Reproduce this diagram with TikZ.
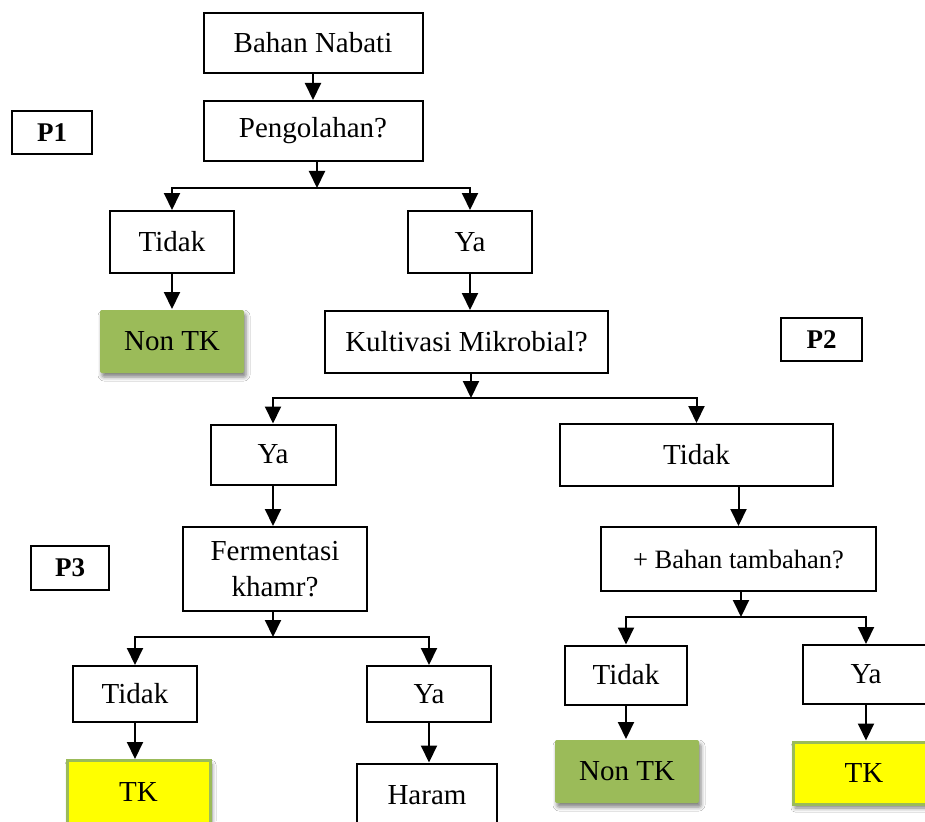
\documentclass[tikz,border=0pt]{standalone}
\usepackage{fontspec}
\setmainfont{Liberation Serif}
\usetikzlibrary{arrows.meta,shadows.blur,calc}
\definecolor{olive}{HTML}{9BBB59}
\definecolor{tkyellow}{HTML}{FFFF00}
\tikzset{
  box/.style={draw, line width=2pt, inner sep=0pt, align=center,
    font=\fontsize{29}{36}\selectfont},
  tag/.style={draw, line width=1.6pt, inner sep=0pt,
    font=\fontsize{27}{32}\selectfont\bfseries},
  soft/.style={blur shadow={shadow xshift=2pt, shadow yshift=-4pt,
    shadow blur radius=4pt, shadow opacity=50}},
  nontk/.style={box, draw=none, fill=olive, rounded corners=2pt, soft},
  tk/.style={box, draw=olive, line width=3pt, fill=tkyellow, soft},
  arr/.style={line width=2pt, -{Triangle[length=17pt,width=16pt]}},
  link/.style={line width=2pt}
}
\begin{document}
\begin{tikzpicture}[x=1pt, y=-1pt]
\clip (0,0) rectangle (925,821);
\fill[white] (0,0) rectangle (925,821);

% stage labels
\node[tag, minimum width=80pt, minimum height=43pt] (p1) at (52,132.5) {P1};
\node[tag, minimum width=81pt, minimum height=43pt] (p2) at (821.5,339.5) {P2};
\node[tag, minimum width=78pt, minimum height=44pt] (p3) at (70,568) {P3};

% decision chain
\node[box, minimum width=219pt, minimum height=60pt] (bahan) at (313,43) {Bahan Nabati};
\node[box, minimum width=219pt, minimum height=60pt] (peng) at (313,131) {Pengolahan?};
\node[box, minimum width=124pt, minimum height=62pt] (tidak1) at (172,242) {Tidak};
\node[box, minimum width=124pt, minimum height=62pt] (ya1) at (470,242) {Ya};
\node[nontk, minimum width=144pt, minimum height=63pt] (nontk1) at (172,341.5) {Non TK};
\node[box, minimum width=283pt, minimum height=62pt] (kult) at (466.5,342) {Kultivasi Mikrobial?};
\node[box, minimum width=125pt, minimum height=60pt] (ya2) at (273,454.5) {Ya};
\node[box, minimum width=273pt, minimum height=62pt] (tidak2) at (696.5,455) {Tidak};
\node[box, minimum width=184pt, minimum height=84pt] (ferm) at (275,569) {Fermentasi\\khamr?};
\node[box, minimum width=275pt, minimum height=64pt,
  font=\fontsize{26.5}{32}\selectfont] (tamb) at (738.5,559) {+ Bahan tambahan?};
\node[box, minimum width=124pt, minimum height=56pt] (tidak3) at (135,694) {Tidak};
\node[box, minimum width=124pt, minimum height=56pt] (ya3) at (429,694) {Ya};
\node[box, minimum width=122pt, minimum height=59pt] (tidak4) at (626,675) {Tidak};
\node[box, minimum width=126pt, minimum height=59pt] (ya4) at (866,674.5) {Ya};
\node[tk, minimum width=143pt, minimum height=63pt] (tk1) at (138.5,792) {TK};
\node[box, minimum width=140pt, minimum height=63pt] (haram) at (427,795) {Haram};
\node[nontk, minimum width=144pt, minimum height=63pt] (nontk2) at (627,771.5) {Non TK};
\node[tk, minimum width=142pt, minimum height=62pt] (tk2) at (864,773) {TK};

% branch points
\coordinate (f1) at (317,188);
\coordinate (f2) at (471,398);
\coordinate (f3) at (273,637);
\coordinate (f4) at (741,617);

% straight links
\draw[arr] (bahan) -- (peng);
\draw[arr] (tidak1) -- (nontk1);
\draw[arr] (ya1.south) -- (ya1.south |- kult.north);
\draw[arr] (ya2.south) -- (ya2.south |- ferm.north);
\draw[arr] (tamb.north |- tidak2.south) -- (tamb.north);
\draw[arr] (tidak3.south) -- (tidak3.south |- tk1.north);
\draw[arr] (ya3.south) -- (ya3.south |- haram.north);
\draw[arr] (tidak4.south) -- (tidak4.south |- nontk2.north);
\draw[arr] (ya4.south) -- (ya4.south |- tk2.north);

% forks
\draw[arr] (f1 |- peng.south) -- (f1);
\draw[arr] (f1) -| (tidak1.north);
\draw[arr] (f1) -| (ya1.north);

\draw[arr] (f2 |- kult.south) -- (f2);
\draw[arr] (f2) -| (ya2.north);
\draw[arr] (f2) -| (tidak2.north);

\draw[arr] (f3 |- ferm.south) -- (f3);
\draw[arr] (f3) -| (tidak3.north);
\draw[arr] (f3) -| (ya3.north);

\draw[arr] (f4 |- tamb.south) -- (f4);
\draw[arr] (f4) -| (tidak4.north);
\draw[arr] (f4) -| (ya4.north);
\end{tikzpicture}
\end{document}
